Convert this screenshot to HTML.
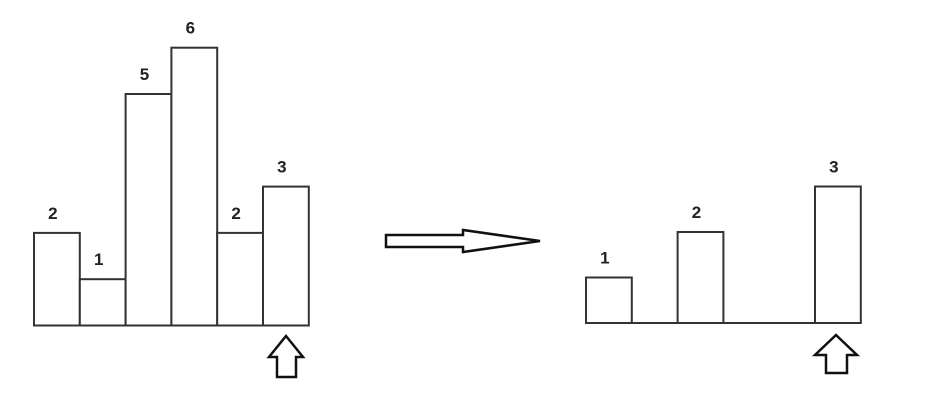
<!DOCTYPE html>
<html><head><meta charset="utf-8"><style>
html,body{margin:0;padding:0;background:#fff;}
svg{display:block;}
text{font-family:"Liberation Sans",sans-serif;font-size:17px;font-weight:bold;fill:#222;}
</style></head><body>
<svg id="c" width="942" height="416" viewBox="0 0 942 416">
<g id="left"></g>
<g id="right"></g>
<polygon points="386,235 463,235 463,230 540,241 463,252 463,247 386,247" fill="#fff" stroke="#111" stroke-width="2.5"/>
<polygon points="286,336 303,357 296,357 296,377 277,377 277,357 269,357" fill="#fff" stroke="#111" stroke-width="2.5"/>
<polygon points="836,335 857,355 847,355 847,373 826,373 826,355 815,355" fill="#fff" stroke="#111" stroke-width="2.5"/>
</svg>
<script>
const leftValues = [2, 1, 5, 6, 2, 3];
const rightValues = [1, 0, 2, 0, 0, 3];
const rightLabels = ["1", "", "2", "", "", "3"];
const NS = "http://www.w3.org/2000/svg";
function draw(g, values, labels, x0, slotW, baseY, unit, name) {
  const xScale = i => x0 + i * slotW;
  const yScale = v => baseY - v * unit;
  const base = document.createElementNS(NS, "line");
  
  
  base.setAttribute("x1", xScale(0)); base.setAttribute("x2", xScale(values.length));
  base.setAttribute("y1", baseY); base.setAttribute("y2", baseY);
  base.setAttribute("stroke", "#333"); base.setAttribute("stroke-width", "2");
  g.appendChild(base);
  values.forEach((v, i) => {
    if (v <= 0) return;
    const r = document.createElementNS(NS, "rect");
    
    
    r.setAttribute("x", xScale(i)); r.setAttribute("y", yScale(v));
    r.setAttribute("width", slotW); r.setAttribute("height", baseY - yScale(v));
    r.setAttribute("fill", "#fff"); r.setAttribute("stroke", "#333"); r.setAttribute("stroke-width", "2");
    g.appendChild(r);
    const t = document.createElementNS(NS, "text");
    
    
    t.setAttribute("x", xScale(i) + slotW / 2 - 4); t.setAttribute("y", yScale(v) - 14);
    t.setAttribute("text-anchor", "middle");
    t.textContent = labels ? labels[i] : String(v);
    g.appendChild(t);
  });
}
draw(document.getElementById("left"), leftValues, null, 34, 45.8, 325.5, 46.3, "left");
draw(document.getElementById("right"), rightValues, rightLabels, 586, 45.8, 323, 45.5, "right");
</script>
</body></html>
